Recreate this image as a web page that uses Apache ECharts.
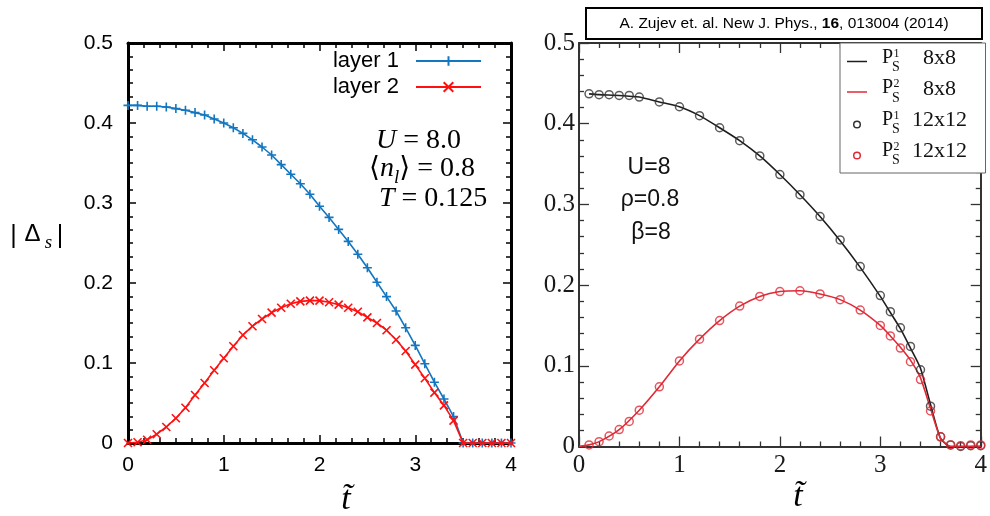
<!DOCTYPE html>
<html><head><meta charset="utf-8">
<script src="https://cdn.jsdelivr.net/npm/echarts/dist/echarts.min.js"></script>
<style>html,body{margin:0;padding:0;background:#fff}#c{width:990px;height:516px}</style>
</head><body><div id="c"></div>
<script>
// ---------- data: left panel ----------
const tLeft = [0,0.1,0.2,0.3,0.4,0.5,0.6,0.7,0.8,0.9,1.0,1.1,1.2,1.3,1.4,1.5,1.6,1.7,1.8,1.9,2.0,2.1,2.2,2.3,2.4,2.5,2.6,2.7,2.8,2.9,3.0,3.1,3.2,3.3,3.4,3.5,3.6,3.7,3.8,3.9,4.0];
const layer1 = [0.422,0.422,0.421,0.421,0.420,0.418,0.416,0.413,0.410,0.405,0.400,0.394,0.387,0.379,0.370,0.360,0.348,0.336,0.324,0.311,0.296,0.282,0.267,0.252,0.236,0.219,0.201,0.183,0.165,0.144,0.122,0.099,0.076,0.055,0.033,0,0,0,0,0,0];
const layer2 = [0,0.001,0.004,0.011,0.020,0.031,0.044,0.060,0.075,0.091,0.106,0.121,0.135,0.146,0.155,0.163,0.169,0.174,0.177,0.178,0.178,0.176,0.173,0.169,0.164,0.157,0.150,0.141,0.129,0.115,0.098,0.081,0.063,0.047,0.028,0,0,0,0,0,0];
const leftNames = ['layer 1','layer 2'];
const leftXTicks = [0,1,2,3,4];
const leftYTicks = [0,0.1,0.2,0.3,0.4,0.5];

// ---------- data: right panel ----------
const tLine = [0,0.1,0.2,0.4,0.6,0.8,1.0,1.2,1.4,1.6,1.8,2.0,2.2,2.4,2.6,2.8,3.0,3.1,3.2,3.3,3.4,3.5,3.6,3.7,3.8,3.9,4.0];
const ps1_8 = [null,0.437,0.436,0.435,0.433,0.427,0.421,0.410,0.395,0.379,0.360,0.337,0.312,0.285,0.255,0.222,0.186,0.166,0.146,0.122,0.097,0.052,0.010,0,0,0,0];
const ps2_8 = [0,0.002,0.006,0.021,0.045,0.074,0.106,0.133,0.156,0.174,0.186,0.192,0.193,0.189,0.182,0.169,0.150,0.137,0.123,0.107,0.085,0.047,0.010,0,0,0,0];
const tCirc = [0.1,0.2,0.3,0.4,0.5,0.6,0.8,1.0,1.2,1.4,1.6,1.8,2.0,2.2,2.4,2.6,2.8,3.0,3.1,3.2,3.3,3.4,3.5,3.6,3.7,3.8,3.9,4.0];
const ps1_12 = [0.437,0.436,0.436,0.435,0.435,0.433,0.427,0.421,0.410,0.395,0.379,0.360,0.337,0.312,0.285,0.256,0.223,0.187,0.167,0.147,0.124,0.095,0.050,0.012,0.002,0.000,0.001,0.001];
const ps2_12 = [0.002,0.006,0.013,0.021,0.031,0.045,0.074,0.106,0.133,0.156,0.174,0.186,0.192,0.193,0.189,0.182,0.169,0.150,0.137,0.122,0.105,0.083,0.044,0.012,0.002,0.001,0.002,0.002];
const rightNames = ['P1S 8x8','P2S 8x8','P1S 12x12','P2S 12x12'];

const SANS = '"Liberation Sans", Arial, Helvetica, sans-serif';
const SERIF = '"Liberation Serif", "Times New Roman", "DejaVu Serif", serif';
const BLUE = '#1376c0';
const RED = '#ff1010';
const BLK2 = '#1e1e1e';
const RED2 = '#e02a36';

const PLUS = 'path://M0,5L10,5M5,0L5,10';
const CROSS = 'path://M0,0L10,10M10,0L0,10';

function pair(xs, ys){ return xs.map((x,i)=>[x, ys[i]]); }

function axisL(kind, pos, showLabel, extra){
  const base = {
    type:'value', position:pos, gridIndex:0,
    axisLine:{show:true, onZero:false, lineStyle:{color:'#000', width:3}},
    axisTick:{show:true, inside:true, length:8, lineStyle:{color:'#000', width:1.5}},
    minorTick:{show:true, splitNumber:6, length:5, lineStyle:{color:'#000', width:1.5}},
    splitLine:{show:false}, minorSplitLine:{show:false},
    axisLabel:{show:showLabel, color:'#000', fontFamily:SANS, fontSize:21}
  };
  return Object.assign(base, extra);
}
function axisR(kind, pos, showLabel, extra){
  const base = {
    type:'value', position:pos, gridIndex:1,
    axisLine:{show:true, onZero:false, lineStyle:{color:'#333', width:2}},
    axisTick:{show:true, inside:true, length:10, lineStyle:{color:'#333', width:1.3}},
    minorTick:{show:true, splitNumber:5, length:5, lineStyle:{color:'#333', width:1.3}},
    splitLine:{show:false}, minorSplitLine:{show:false},
    axisLabel:{show:showLabel, color:'#1a1a1a', fontFamily:SERIF, fontSize:25}
  };
  return Object.assign(base, extra);
}
const yFmt = v => (Math.abs(v) < 1e-9 ? '0' : v.toFixed(1));

function T(x, y, text, font, align, fill, extra){
  return Object.assign({type:'text', x:x, y:y, silent:true, z:50,
    style:{text:text, font:font, fill:fill||'#000', align:align||'center', textAlign:align||'center', verticalAlign:'middle', textVerticalAlign:'middle'}}, extra||{});
}
function R(x,y,w,h,stroke,lw){
  return {type:'rect', z:40, silent:true, shape:{x:x,y:y,width:w,height:h}, style:{fill:'#fff', stroke:stroke, lineWidth:lw}};
}

const chart = echarts.init(document.getElementById('c'), null, {renderer:'canvas'});

const serifRich = {
  r:{fontFamily:SERIF, fontSize:28, lineHeight:36, verticalAlign:'middle', color:'#000'},
  i:{fontFamily:SERIF, fontSize:28, fontStyle:'italic', lineHeight:36, verticalAlign:'middle', color:'#000'},
  sub:{fontFamily:SERIF, fontSize:19, fontStyle:'italic', lineHeight:24, verticalAlign:'bottom', color:'#000'}
};

const graphics = [
  // left y-axis name |Δs|
  T(13.5, 236, '|', '25px ' + SANS, 'center'),
  T(32.5, 234, 'Δ', '24px ' + SANS, 'center'),
  T(48.5, 243, 's', 'italic 19px ' + SERIF, 'center'),
  T(60, 236, '|', '25px ' + SANS, 'center'),
  // x names
  T(346, 500, 't\u0303', 'italic 34px ' + SERIF, 'center'),
  T(798, 497, 't\u0303', 'italic 34px ' + SERIF, 'center'),
  // left annotations
  {type:'text', x:376, y:141, z:50, silent:true, style:{text:'{i|U}{r| = 8.0}', rich:serifRich, align:'left', verticalAlign:'middle'}},
  {type:'text', x:369, y:169, z:50, silent:true, style:{text:'{r|⟨}{i|n}{sub|l}{r|⟩ = 0.8}', rich:serifRich, align:'left', verticalAlign:'middle'}},
  {type:'text', x:379, y:199, z:50, silent:true, style:{text:'{i|T}{r| = 0.125}', rich:serifRich, align:'left', verticalAlign:'middle'}},
  // right annotations
  T(649, 168, 'U=8', '23px ' + SANS, 'center', '#111'),
  T(650, 200, 'ρ=0.8', '23px ' + SANS, 'center', '#111'),
  T(651, 233, 'β=8', '23px ' + SANS, 'center', '#111'),
  // attribution box
  R(586, 8, 396, 31, '#000', 2),
  {type:'text', x:784, y:24, z:50, silent:true, style:{
    text:'{n|A. Zujev et. al. New J. Phys., }{b|16}{n|, 013004 (2014)}',
    align:'center', verticalAlign:'middle',
    rich:{n:{fontFamily:SANS, fontSize:15.5, color:'#000'}, b:{fontFamily:SANS, fontSize:15.5, fontWeight:'bold', color:'#000'}}}},
  // right legend box
  R(840, 43, 145.5, 130, '#666', 1),
];
// right legend entries
const legRows = [57.5, 88, 119.5, 150.5];
const legSizes = ['8x8','8x8','12x12','12x12'];
const legSup = ['1','2','1','2'];
const legX = [923, 923, 912, 912];
legRows.forEach((yy, k) => {
  if (k < 2) {
    graphics.push({type:'line', z:51, silent:true, shape:{x1:847, y1:yy+4, x2:867, y2:yy+4}, style:{stroke: k===0?BLK2:RED2, lineWidth:1.5}});
  } else {
    graphics.push({type:'circle', z:51, silent:true, shape:{cx:857, cy:yy+5, r:3.3}, style:{fill:'none', stroke: k===2?'#333':RED2, lineWidth:1.5}});
  }
  graphics.push(T(882, yy, 'P', '20px ' + SERIF, 'left', '#111'));
  graphics.push(T(893.5, yy-4, legSup[k], '12px ' + SERIF, 'left', '#111'));
  graphics.push(T(896, yy+10, 'S', '14px ' + SERIF, 'center', '#111'));
  graphics.push(T(legX[k], yy+1, legSizes[k], '22px ' + SERIF, 'left', '#111'));
});

const option = {
  animation:false,
  backgroundColor:'#fff',
  grid:[
    {left:128, top:43, width:383, height:400, containLabel:false},
    {left:579, top:43, width:406.5, height:403.5, containLabel:false}
  ],
  xAxis:[
    axisL('x','bottom',true,{gridIndex:0, min:leftXTicks[0], max:leftXTicks[leftXTicks.length-1], interval:1, axisLabel:{show:true, color:'#000', fontFamily:SANS, fontSize:21, margin:12}}),
    axisL('x','top',false,{gridIndex:0, min:0, max:4, interval:1}),
    axisR('x','bottom',true,{gridIndex:1, min:0, max:4, interval:1, axisLabel:{show:true, color:'#1a1a1a', fontFamily:SERIF, fontSize:25, margin:6}}),
    axisR('x','top',false,{gridIndex:1, min:0, max:4, interval:1})
  ],
  yAxis:[
    axisL('y','left',true,{gridIndex:0, min:leftYTicks[0], max:leftYTicks[leftYTicks.length-1], interval:0.1, axisLabel:{show:true, color:'#000', fontFamily:SANS, fontSize:21, margin:15, formatter:yFmt}}),
    axisL('y','right',false,{gridIndex:0, min:0, max:0.5, interval:0.1}),
    axisR('y','left',true,{gridIndex:1, min:0, max:0.5, interval:0.1, axisLabel:{show:true, color:'#1a1a1a', fontFamily:SERIF, fontSize:25, margin:4, formatter:yFmt}}),
    axisR('y','right',false,{gridIndex:1, min:0, max:0.5, interval:0.1})
  ],
  legend:[{
    data:leftNames, orient:'vertical', align:'right', right:508, top:50, padding:0,
    itemWidth:65, itemHeight:12, itemGap:4,
    textStyle:{fontFamily:SANS, fontSize:22, color:'#000', padding:[0,12,0,0], lineHeight:22},
    selectedMode:false
  }],
  graphic: graphics,
  series:[
    {name:leftNames[0], type:'line', xAxisIndex:0, yAxisIndex:0, data:pair(tLeft, layer1), clip:false,
      symbol:PLUS, symbolSize:9, showAllSymbol:true,
      lineStyle:{color:BLUE, width:1.6}, itemStyle:{color:BLUE, borderColor:BLUE, borderWidth:1.6}, z:3},
    {name:leftNames[1], type:'line', xAxisIndex:0, yAxisIndex:0, data:pair(tLeft, layer2), clip:false,
      symbol:CROSS, symbolSize:8, showAllSymbol:true,
      lineStyle:{color:RED, width:1.6}, itemStyle:{color:RED, borderColor:RED, borderWidth:1.6}, z:4},
    {name:rightNames[0], type:'line', xAxisIndex:2, yAxisIndex:2, data:pair(tLine, ps1_8), showSymbol:false, symbol:'none',
      smooth:0.2, lineStyle:{color:BLK2, width:1.6}, z:3},
    {name:rightNames[1], type:'line', xAxisIndex:2, yAxisIndex:2, data:pair(tLine, ps2_8), showSymbol:false, symbol:'none',
      smooth:0.2, lineStyle:{color:RED2, width:1.6}, z:3},
    {name:rightNames[2], type:'scatter', xAxisIndex:2, yAxisIndex:2, data:pair(tCirc, ps1_12), symbol:'circle', symbolSize:8, clip:false,
      itemStyle:{color:'rgba(0,0,0,0)', borderColor:'#333', borderWidth:1.5}, z:5},
    {name:rightNames[3], type:'scatter', xAxisIndex:2, yAxisIndex:2, data:pair(tCirc, ps2_12), symbol:'circle', symbolSize:8, clip:false,
      itemStyle:{color:'rgba(0,0,0,0)', borderColor:RED2, borderWidth:1.5}, z:5}
  ]
};
chart.setOption(option);
</script>
</body></html>
